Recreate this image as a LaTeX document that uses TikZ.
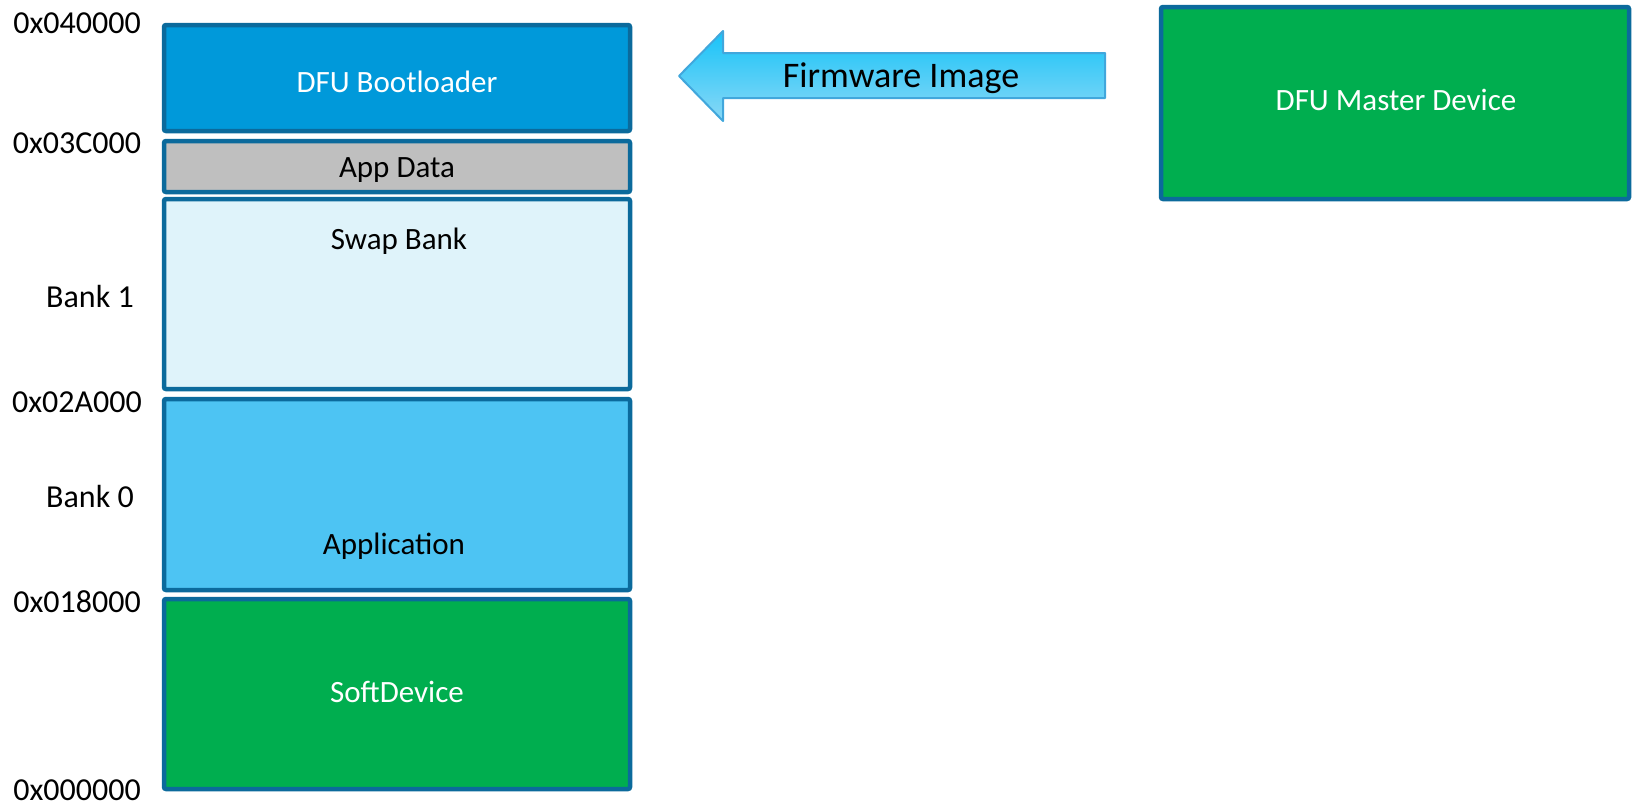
\documentclass[tikz,border=0pt]{standalone}
\usepackage{fontspec}
\setmainfont{Carlito}
\definecolor{memline}{HTML}{0B6A9C}
\definecolor{bootblue}{HTML}{0099DA}
\definecolor{datagray}{HTML}{BFBFBF}
\definecolor{swapblue}{HTML}{DFF3FA}
\definecolor{appblue}{HTML}{4DC4F3}
\definecolor{sdgreen}{HTML}{00AE4F}
\definecolor{arrowline}{HTML}{41A7DC}
\definecolor{arrowtop}{HTML}{17C3F8}
\definecolor{arrowbot}{HTML}{8AD8F6}
\begin{document}
\begin{tikzpicture}[x=1pt,y=-1pt,
    mem/.style={draw=memline, line width=4.5pt, rounded corners=2pt, minimum width=466pt, inner sep=0pt},
    addr/.style={anchor=base, font=\fontsize{32}{38}\selectfont},
    txt/.style={anchor=base, font=\fontsize{31}{37}\selectfont}]
    % 画布大小
    \useasboundingbox (0,0) rectangle (1637,807);

    % 存储区块（从上到下）
    \node[mem, fill=bootblue, minimum height=106pt] (boot) at (397,78) {};
    \node[mem, fill=datagray, minimum height=51pt] (appdata) at (397,166.5) {};
    \node[mem, fill=swapblue, minimum height=190pt] (swap) at (397,294) {};
    \node[mem, fill=appblue, minimum height=191pt] (app) at (397,494.5) {};
    \node[mem, fill=sdgreen, minimum height=190pt] (softdev) at (397,694) {};

    % 区块文字
    \node[txt, white] (boot-txt) at (397,92) {DFU Bootloader};
    \node[txt] (appdata-txt) at (397,177) {App Data};
    \node[txt] (swap-txt) at (399,249) {Swap Bank};
    \node[txt] (app-txt) at (394,554) {Application};
    \node[txt, white] (softdev-txt) at (397,702) {SoftDevice};

    % 地址与 Bank 标签
    \node[addr] (a40) at (77,33) {0x040000};
    \node[addr] (a3c) at (77,153) {0x03C000};
    \node[addr] (bank1) at (90,307) {Bank 1};
    \node[addr] (a2a) at (77,412) {0x02A000};
    \node[addr] (bank0) at (90,507) {Bank 0};
    \node[addr] (a18) at (77,612) {0x018000};
    \node[addr] (a00) at (77,800) {0x000000};

    % 右侧 DFU 主设备
    \node[mem, fill=sdgreen, minimum width=468pt, minimum height=192pt] (master) at (1395,103) {};
    \node[txt, white] (master-txt) at (1396,110) {DFU Master Device};

    % 固件映像箭头
    \draw[draw=arrowline, line width=2pt, line join=round, top color=arrowtop, bottom color=arrowbot]
        (679,76) -- (723,31) -- (723,53) -- (1105,53) -- (1105,98) -- (723,98) -- (723,121) -- cycle;
    \node[anchor=base, font=\fontsize{36}{43}\selectfont] (fw-txt) at (901,87) {Firmware Image};
\end{tikzpicture}
\end{document}
